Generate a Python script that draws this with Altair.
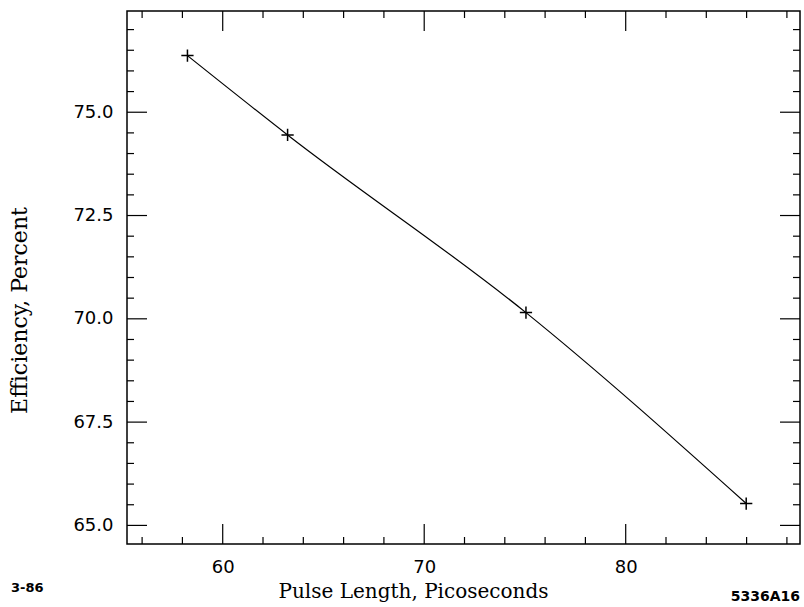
import altair as alt
import pandas as pd

# data
pulse_length = [58.25, 63.22, 75.05, 85.98]
efficiency = [76.37, 74.45, 70.15, 65.53]

x_major = [60, 70, 80]
x_minor = [56, 58, 62, 64, 66, 68, 72, 74, 76, 78, 82, 84, 86, 88]
y_major = [65.0, 67.5, 70.0, 72.5, 75.0]
y_minor = [65.5, 66.0, 66.5, 67.0, 68.0, 68.5, 69.0, 69.5, 70.5, 71.0, 71.5, 72.0,
           73.0, 73.5, 74.0, 74.5, 75.5, 76.0, 76.5, 77.0]

W, H = 673, 533
MAJ, MIN = 20, 7

xs = alt.Scale(domain=[55.25, 88.65], nice=False, zero=False)
ys = alt.Scale(domain=[64.55, 77.45], nice=False, zero=False)

x_axis = alt.Axis(
    title="Pulse Length, Picoseconds", values=x_major, ticks=False, domain=False, grid=False,
    labelFont="DejaVu Sans", labelFontSize=18, labelPadding=14, labelColor="black",
    titleFont="DejaVu Serif", titleFontSize=20, titleFontWeight="normal", titleColor="black",
    titleX=286, titleY=47, titleBaseline="middle")
y_axis = alt.Axis(
    title="Efficiency, Percent", values=y_major, format=".1f", ticks=False, domain=False, grid=False,
    labelFont="DejaVu Sans", labelFontSize=18, labelPadding=14, labelColor="black",
    titleFont="DejaVu Serif", titleFontSize=22, titleFontWeight="normal", titleColor="black",
    titleX=-108, titleY=299, titleBaseline="middle")

df = pd.DataFrame({"x": pulse_length, "y": efficiency})

line = alt.Chart(df).mark_line(color="black", strokeWidth=1.2, interpolate="monotone").encode(
    x=alt.X("x:Q", scale=xs, axis=x_axis),
    y=alt.Y("y:Q", scale=ys, axis=y_axis),
)

cross = "M-1,0L1,0M0,-1L0,1"
pts = alt.Chart(df).mark_point(shape=cross, size=150, filled=False, color="black", strokeWidth=1.5, opacity=1).encode(
    x=alt.X("x:Q", scale=xs, axis=x_axis),
    y=alt.Y("y:Q", scale=ys, axis=y_axis),
)


def xticks(vals, ln):
    d = pd.DataFrame({"x": vals})
    base = alt.Chart(d).mark_rule(color="black", strokeWidth=1.2)
    bot = base.encode(x=alt.X("x:Q", scale=xs, axis=x_axis), y=alt.value(H), y2=alt.value(H - ln))
    top = base.encode(x=alt.X("x:Q", scale=xs, axis=x_axis), y=alt.value(0), y2=alt.value(ln))
    return [bot, top]


def yticks(vals, ln):
    d = pd.DataFrame({"y": vals})
    base = alt.Chart(d).mark_rule(color="black", strokeWidth=1.2)
    left = base.encode(y=alt.Y("y:Q", scale=ys, axis=y_axis), x=alt.value(0), x2=alt.value(ln))
    right = base.encode(y=alt.Y("y:Q", scale=ys, axis=y_axis), x=alt.value(W), x2=alt.value(W - ln))
    return [left, right]


note_left = alt.Chart(pd.DataFrame({"t": ["3-86"]})).mark_text(
    font="DejaVu Sans", fontSize=13, fontWeight="bold", align="left", baseline="middle", color="black"
).encode(text="t:N", x=alt.value(-116), y=alt.value(H + 44))
note_right = alt.Chart(pd.DataFrame({"t": ["5336A16"]})).mark_text(
    font="DejaVu Sans", fontSize=14, fontWeight="bold", align="right", baseline="middle", color="black"
).encode(text="t:N", x=alt.value(W), y=alt.value(H + 53))

layers = [line, pts] + xticks(x_major, MAJ) + xticks(x_minor, MIN) + yticks(y_major, MAJ) + yticks(y_minor, MIN) + [note_left, note_right]

chart = alt.layer(*layers).properties(
    width=W, height=H,
    autosize=alt.AutoSizeParams(type="none"),
    padding={"left": 127, "top": 11, "right": 4, "bottom": 63},
    background="white",
).configure_view(stroke="black", strokeWidth=1.5)

chart.save("out.html", embed_options={"renderer": "svg", "actions": False})
